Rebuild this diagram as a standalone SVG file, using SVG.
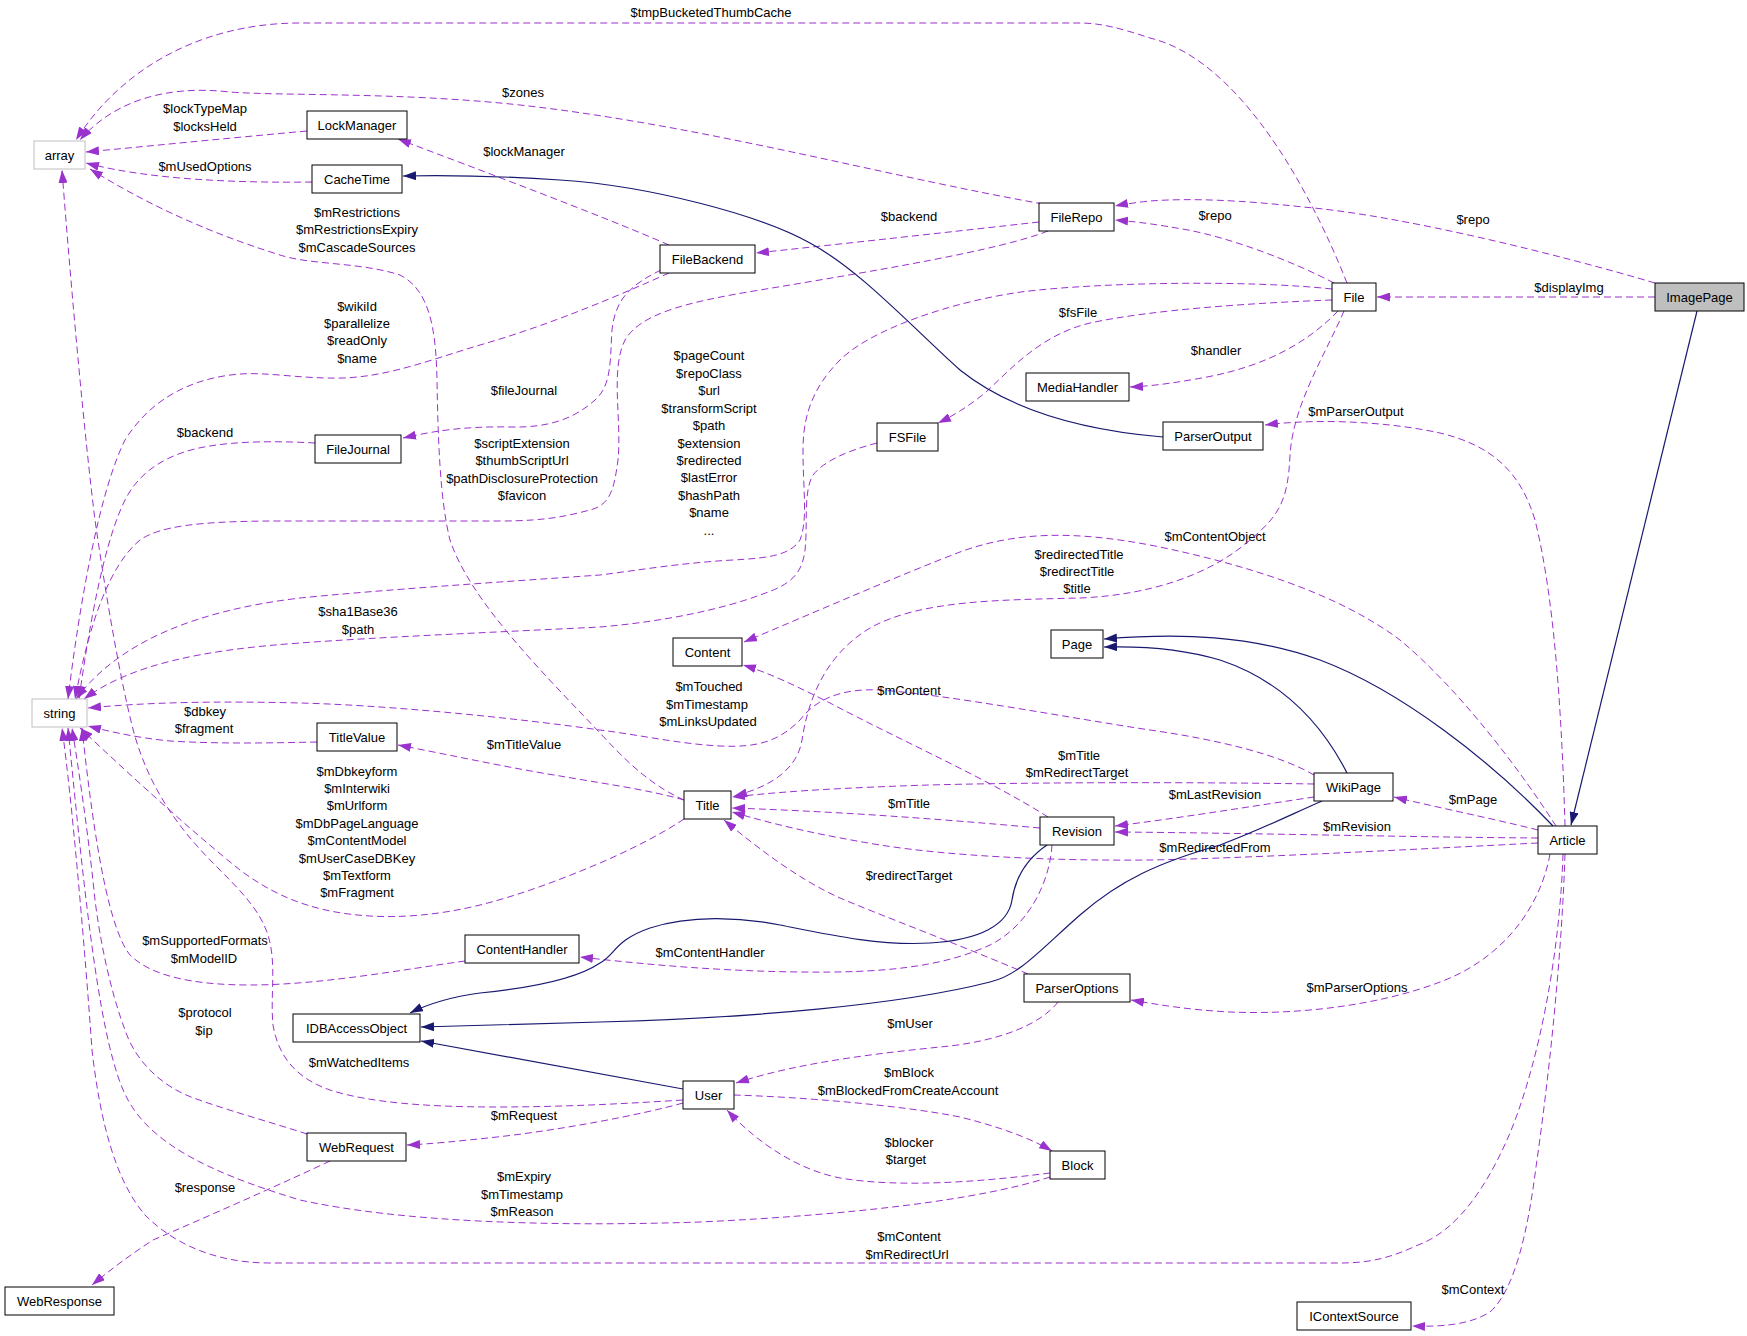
<svg xmlns="http://www.w3.org/2000/svg" width="1747" height="1336" viewBox="0 0 1747 1336">
<style>
.bg{fill:#fff}
.n rect{fill:#fff;stroke:#000;stroke-width:1}
.n.u rect{stroke:#bfbfbf}
.n.h rect{fill:#bfbfbf}
text{font-family:"Liberation Sans",Arial,Helvetica,sans-serif;font-size:13px;fill:#000;text-anchor:middle}
.e{fill:none;stroke:#9a32cd;stroke-width:1;stroke-dasharray:7,4;marker-end:url(#ap)}
.i{fill:none;stroke:#191970;stroke-width:1.2;marker-end:url(#ab)}
</style>
<defs>
<marker id="ap" viewBox="0 0 13 9" refX="13" refY="4.5" markerWidth="13" markerHeight="9" markerUnits="userSpaceOnUse" orient="auto"><path d="M0,0 L13,4.5 L0,9 z" fill="#9a32cd"/></marker>
<marker id="ab" viewBox="0 0 13 9" refX="13" refY="4.5" markerWidth="13" markerHeight="9" markerUnits="userSpaceOnUse" orient="auto"><path d="M0,0 L13,4.5 L0,9 z" fill="#191970"/></marker>
</defs>
<rect class="bg" x="0" y="0" width="1747" height="1336"/>
<g id="connectors">
<g><path class="e" d="M1347,283 C1310,190 1240,60 1150,38 C1120,28 1100,23 1080,23 L300,23 C200,23 120,70 76,140"/><text x="711" y="17">$tmpBucketedThumbCache</text></g>
<g><path class="e" d="M1043,204 C880,175 700,125 520,105 C400,92 280,96 230,92 C160,84 110,105 80,140"/><text x="523" y="97">$zones</text></g>
<g><path class="e" d="M307,131 C230,138 160,145 86,152"/><text x="205" y="113">$lockTypeMap</text><text x="205" y="131">$locksHeld</text></g>
<g><path class="e" d="M312,182 C240,183 150,180 86,163"/><text x="205" y="171">$mUsedOptions</text></g>
<g><path class="e" d="M669,245 C600,215 480,170 398,139"/><text x="524" y="156">$lockManager</text></g>
<g><path class="e" d="M684,800 C650,785 625,760 600,733 C540,670 470,600 450,540 C440,500 438,440 437,380 C436,330 430,290 400,275 C360,262 310,265 280,255 C200,230 140,200 90,169"/><text x="357" y="217">$mRestrictions</text><text x="357" y="234">$mRestrictionsExpiry</text><text x="357" y="252">$mCascadeSources</text></g>
<g><path class="e" d="M669,273 C620,295 550,325 480,345 C430,360 390,376 344,378 C300,379 270,372 240,374 C190,378 150,400 125,440 C100,490 80,600 68,699"/><text x="357" y="311">$wikiId</text><text x="357" y="328">$parallelize</text><text x="357" y="345">$readOnly</text><text x="357" y="363">$name</text></g>
<g><path class="e" d="M661,270 C630,285 615,300 612,330 C610,360 612,385 595,400 C575,418 550,428 510,427 C460,426 430,432 403,438"/><text x="524" y="395">$fileJournal</text></g>
<g><path class="e" d="M1048,231 C1000,250 880,270 760,290 C680,303 640,315 625,340 C610,370 622,420 618,460 C614,490 610,505 590,510 C570,515 550,521 500,521 L280,521 C200,521 160,526 140,540 C110,565 90,620 75,699"/><text x="522" y="448">$scriptExtension</text><text x="522" y="465">$thumbScriptUrl</text><text x="522" y="483">$pathDisclosureProtection</text><text x="522" y="500">$favicon</text></g>
<g><path class="e" d="M315,443 C280,441 240,441 210,446 C170,452 140,470 125,500 C105,540 90,620 79,699"/><text x="205" y="437">$backend</text></g>
<g><path class="e" d="M1332,289 C1250,280 1100,282 1021,292 C950,302 870,330 840,360 C810,390 803,420 803,450 C803,490 808,520 800,540 C790,555 770,558 733,560 C680,563 640,570 600,575 C500,582 380,590 300,598 C200,610 120,640 76,699"/><text x="709" y="360">$pageCount</text><text x="709" y="378">$repoClass</text><text x="709" y="395">$url</text><text x="709" y="413">$transformScript</text><text x="709" y="430">$path</text><text x="709" y="448">$extension</text><text x="709" y="465">$redirected</text><text x="709" y="482">$lastError</text><text x="709" y="500">$hashPath</text><text x="709" y="517">$name</text><text x="709" y="535">...</text></g>
<g><path class="e" d="M877,443 C850,450 825,460 813,475 C803,492 808,525 805,550 C802,575 790,585 760,595 C720,610 660,622 600,627 C500,632 380,637 300,643 C200,650 130,665 84,699"/><text x="358" y="616">$sha1Base36</text><text x="358" y="634">$path</text></g>
<g><path class="e" d="M1332,300 C1250,303 1150,310 1090,323 C1040,335 1010,370 985,393 C970,405 955,415 938,423"/><text x="1078" y="317">$fsFile</text></g>
<g><path class="e" d="M1338,311 C1310,340 1270,365 1207,377 C1180,382 1155,386 1130,387"/><text x="1216" y="355">$handler</text></g>
<g><path class="e" d="M1334,283 C1290,260 1230,238 1188,230 C1160,225 1140,222 1115,220"/><text x="1215" y="220">$repo</text></g>
<g><path class="e" d="M1655,283 C1560,255 1400,215 1303,207 C1240,200 1190,198 1150,201 C1140,202 1125,204 1115,206"/><text x="1473" y="224">$repo</text></g>
<g><path class="e" d="M1655,297 L1377,297"/><text x="1569" y="292">$displayImg</text></g>
<g><path class="e" d="M1039,222 C950,232 850,243 756,253"/><text x="909" y="221">$backend</text></g>
<g><path class="e" d="M1565,826 C1562,720 1555,600 1535,520 C1520,470 1490,445 1440,433 C1390,422 1320,418 1265,425"/><text x="1356" y="416">$mParserOutput</text></g>
<g><path class="e" d="M1556,826 C1520,770 1460,690 1400,640 C1340,595 1250,565 1150,545 C1080,532 1020,530 960,552 C900,575 820,610 744,642"/><text x="1215" y="541">$mContentObject</text></g>
<g><path class="e" d="M1344,311 C1325,355 1293,405 1290,455 C1288,500 1280,515 1250,540 C1210,575 1150,595 1080,598 C1000,600 920,600 870,628 C825,655 808,700 802,740 C797,770 770,787 734,796"/><text x="1079" y="559">$redirectedTitle</text><text x="1077" y="576">$redirectTitle</text><text x="1077" y="593">$title</text></g>
<g><path class="e" d="M1314,775 C1280,755 1220,740 1150,730 C1070,718 950,695 880,690 C840,688 815,700 800,720 C780,740 760,748 720,746 C680,744 640,735 600,730 C500,716 380,705 300,703 C220,701 150,702 88,708"/><text x="709" y="691">$mTouched</text><text x="707" y="709">$mTimestamp</text><text x="708" y="726">$mLinksUpdated</text></g>
<g><path class="e" d="M1048,817 C990,780 900,740 830,703 C800,688 770,673 743,665"/><text x="909" y="695">$mContent</text></g>
<g><path class="e" d="M1314,784 C1200,782 1000,782 900,786 C820,789 780,792 732,797"/><text x="1079" y="760">$mTitle</text><text x="1077" y="777">$mRedirectTarget</text></g>
<g><path class="e" d="M1314,797 C1260,805 1180,818 1115,826"/><text x="1215" y="799">$mLastRevision</text></g>
<g><path class="e" d="M1040,828 C950,820 850,812 732,808"/><text x="909" y="808">$mTitle</text></g>
<g><path class="e" d="M1538,830 C1490,818 1440,808 1394,797"/><text x="1473" y="804">$mPage</text></g>
<g><path class="e" d="M1538,838 C1400,837 1250,833 1115,832"/><text x="1357" y="831">$mRevision</text></g>
<g><path class="e" d="M1538,843 C1400,850 1250,858 1150,860 C1050,861 950,856 880,845 C820,835 780,826 732,812"/><text x="1215" y="852">$mRedirectedFrom</text></g>
<g><path class="e" d="M1028,974 C960,945 880,915 840,898 C800,880 760,850 724,820"/><text x="909" y="880">$redirectTarget</text></g>
<g><path class="e" d="M1052,845 C1050,880 1030,925 990,945 C940,968 880,973 800,972 C720,971 650,965 580,957"/><text x="710" y="957">$mContentHandler</text></g>
<g><path class="e" d="M1550,854 C1540,910 1500,960 1440,982 C1380,1005 1300,1015 1230,1012 C1190,1010 1160,1005 1131,1000"/><text x="1357" y="992">$mParserOptions</text></g>
<g><path class="e" d="M1058,1002 C1040,1025 1000,1040 950,1046 C880,1053 800,1062 736,1083"/><text x="910" y="1028">$mUser</text></g>
<g><path class="e" d="M734,1095 C800,1097 900,1105 960,1117 C1000,1127 1030,1138 1052,1151"/><text x="909" y="1077">$mBlock</text><text x="908" y="1095">$mBlockedFromCreateAccount</text></g>
<g><path class="e" d="M1050,1173 C980,1182 900,1188 840,1178 C790,1168 750,1135 727,1110"/><text x="909" y="1147">$blocker</text><text x="906" y="1164">$target</text></g>
<g><path class="e" d="M1050,1177 C980,1200 850,1215 700,1222 C550,1227 400,1222 300,1200 C200,1170 150,1140 128,1100 C100,1050 85,900 68,728"/><text x="524" y="1181">$mExpiry</text><text x="522" y="1199">$mTimestamp</text><text x="522" y="1216">$mReason</text></g>
<g><path class="e" d="M1563,854 C1560,950 1540,1060 1510,1133 C1490,1180 1460,1230 1418,1245 C1390,1258 1370,1263 1340,1263 L270,1263 C210,1263 170,1240 145,1215 C115,1180 100,1120 92,1050 C85,950 72,800 62,728"/><text x="909" y="1241">$mContent</text><text x="907" y="1259">$mRedirectUrl</text></g>
<g><path class="e" d="M1565,854 C1562,950 1550,1070 1536,1167 C1528,1230 1515,1290 1490,1312 C1470,1325 1440,1327 1412,1326"/><text x="1473" y="1294">$mContext</text></g>
<g><path class="e" d="M465,961 C400,970 320,985 250,985 C190,985 150,975 130,955 C110,930 95,850 82,728"/><text x="205" y="945">$mSupportedFormats</text><text x="204" y="963">$mModelID</text></g>
<g><path class="e" d="M684,819 C660,835 630,850 600,863 C560,880 520,895 480,905 C440,915 400,918 370,916 C320,913 280,900 240,870 C190,830 130,775 80,728"/><text x="357" y="776">$mDbkeyform</text><text x="357" y="793">$mInterwiki</text><text x="357" y="810">$mUrlform</text><text x="357" y="828">$mDbPageLanguage</text><text x="357" y="845">$mContentModel</text><text x="357" y="863">$mUserCaseDBKey</text><text x="357" y="880">$mTextform</text><text x="357" y="897">$mFragment</text></g>
<g><path class="e" d="M683,1100 C620,1104 560,1107 497,1107 C430,1107 370,1103 330,1090 C295,1078 278,1055 273,1025 C270,995 277,965 268,935 C260,910 240,890 215,865 C180,830 150,790 134,733 C120,680 105,590 95,520 C85,440 72,300 62,170"/><text x="359" y="1067">$mWatchedItems</text></g>
<g><path class="e" d="M683,1103 C640,1115 560,1130 497,1137 C460,1141 430,1144 407,1145"/><text x="524" y="1120">$mRequest</text></g>
<g><path class="e" d="M307,1134 C270,1122 220,1108 191,1097 C160,1085 135,1060 125,1030 C110,990 100,940 95,900 C90,850 82,790 72,728"/><text x="205" y="1017">$protocol</text><text x="204" y="1035">$ip</text></g>
<g><path class="e" d="M330,1161 C290,1180 200,1220 153,1240 C130,1255 110,1270 92,1285"/><text x="205" y="1192">$response</text></g>
<g><path class="e" d="M684,800 C650,790 600,783 560,776 C510,768 450,755 398,745"/><text x="524" y="749">$mTitleValue</text></g>
<g><path class="e" d="M317,742 C270,743 220,744 170,741 C140,738 115,733 88,726"/><text x="205" y="716">$dbkey</text><text x="204" y="733">$fragment</text></g>
<path class="i" d="M1697,311 L1571,825"/>
<path class="i" d="M1553,826 C1490,760 1400,690 1320,660 C1250,635 1180,633 1104,639"/>
<path class="i" d="M1347,773 C1320,720 1280,680 1220,660 C1180,648 1140,646 1104,647"/>
<path class="i" d="M1163,437 C1080,430 1010,410 960,370 C910,325 860,270 810,243 C760,215 650,186 560,180 C500,176 450,175 403,176"/>
<path class="i" d="M1047,845 C1025,860 1015,880 1012,900 C1008,925 980,940 930,943 C880,946 830,935 780,925 C740,917 690,915 650,928 C615,940 615,955 600,963 C575,980 530,988 480,993 C450,997 430,1003 410,1013"/>
<path class="i" d="M1322,801 C1290,815 1260,830 1220,845 C1160,862 1120,880 1080,915 C1040,950 1020,975 990,982 C900,1005 750,1018 600,1022 C520,1024 470,1026 421,1027"/>
<path class="i" d="M683,1089 L421,1041"/>
</g>
<g id="node-array" class="n u"><rect x="34" y="141" width="51" height="28"/><text x="59.5" y="159.5">array</text></g>
<g id="node-LockManager" class="n"><rect x="307" y="111" width="100" height="28"/><text x="357" y="129.5">LockManager</text></g>
<g id="node-CacheTime" class="n"><rect x="312" y="165" width="90" height="28"/><text x="357" y="183.5">CacheTime</text></g>
<g id="node-FileBackend" class="n"><rect x="660" y="245" width="95" height="28"/><text x="707.5" y="263.5">FileBackend</text></g>
<g id="node-FileRepo" class="n"><rect x="1039" y="203" width="75" height="28"/><text x="1076.5" y="221.5">FileRepo</text></g>
<g id="node-File" class="n"><rect x="1332" y="283" width="44" height="28"/><text x="1354" y="301.5">File</text></g>
<g id="node-ImagePage" class="n h"><rect x="1655" y="283" width="89" height="28"/><text x="1699.5" y="301.5">ImagePage</text></g>
<g id="node-MediaHandler" class="n"><rect x="1026" y="373" width="103" height="28"/><text x="1077.5" y="391.5">MediaHandler</text></g>
<g id="node-FileJournal" class="n"><rect x="315" y="435" width="86" height="28"/><text x="358" y="453.5">FileJournal</text></g>
<g id="node-FSFile" class="n"><rect x="877" y="423" width="61" height="28"/><text x="907.5" y="441.5">FSFile</text></g>
<g id="node-ParserOutput" class="n"><rect x="1163" y="422" width="100" height="28"/><text x="1213" y="440.5">ParserOutput</text></g>
<g id="node-Content" class="n"><rect x="673" y="638" width="69" height="28"/><text x="707.5" y="656.5">Content</text></g>
<g id="node-Page" class="n"><rect x="1051" y="630" width="52" height="28"/><text x="1077" y="648.5">Page</text></g>
<g id="node-string" class="n u"><rect x="32" y="699" width="55" height="28"/><text x="59.5" y="717.5">string</text></g>
<g id="node-TitleValue" class="n"><rect x="317" y="723" width="80" height="28"/><text x="357" y="741.5">TitleValue</text></g>
<g id="node-Title" class="n"><rect x="684" y="791" width="47" height="28"/><text x="707.5" y="809.5">Title</text></g>
<g id="node-Revision" class="n"><rect x="1040" y="817" width="74" height="28"/><text x="1077" y="835.5">Revision</text></g>
<g id="node-WikiPage" class="n"><rect x="1314" y="773" width="79" height="28"/><text x="1353.5" y="791.5">WikiPage</text></g>
<g id="node-Article" class="n"><rect x="1538" y="826" width="59" height="28"/><text x="1567.5" y="844.5">Article</text></g>
<g id="node-ContentHandler" class="n"><rect x="465" y="935" width="114" height="28"/><text x="522" y="953.5">ContentHandler</text></g>
<g id="node-ParserOptions" class="n"><rect x="1024" y="974" width="106" height="28"/><text x="1077" y="992.5">ParserOptions</text></g>
<g id="node-IDBAccessObject" class="n"><rect x="293" y="1014" width="127" height="28"/><text x="356.5" y="1032.5">IDBAccessObject</text></g>
<g id="node-User" class="n"><rect x="683" y="1081" width="51" height="28"/><text x="708.5" y="1099.5">User</text></g>
<g id="node-WebRequest" class="n"><rect x="307" y="1133" width="99" height="28"/><text x="356.5" y="1151.5">WebRequest</text></g>
<g id="node-Block" class="n"><rect x="1050" y="1151" width="55" height="28"/><text x="1077.5" y="1169.5">Block</text></g>
<g id="node-WebResponse" class="n"><rect x="5" y="1287" width="109" height="28"/><text x="59.5" y="1305.5">WebResponse</text></g>
<g id="node-IContextSource" class="n"><rect x="1297" y="1302" width="114" height="28"/><text x="1354" y="1320.5">IContextSource</text></g>
</svg>
